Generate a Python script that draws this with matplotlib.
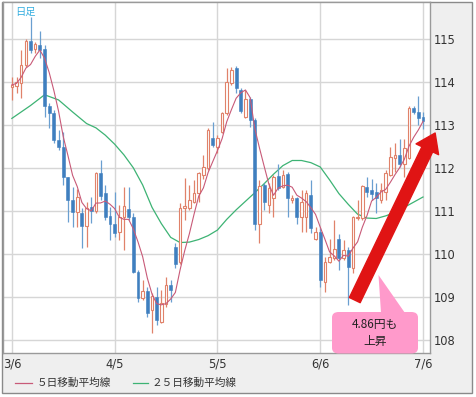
import numpy as np
import pandas as pd
import matplotlib
matplotlib.use("Agg")
import matplotlib.pyplot as plt
from matplotlib.patches import Rectangle, FancyBboxPatch, Polygon
from matplotlib.lines import Line2D

# ---------------- data (USD/JPY daily, 2017-03-06 .. 2017-07-06) ----------------
start_date = "2017-03-06"
end_date = "2017-07-06"
tick_dates = ["2017-03-06", "2017-04-05", "2017-05-05", "2017-06-06", "2017-07-06"]

opens = [113.87, 113.90, 113.97, 114.39, 114.95, 114.76, 114.86, 114.76, 113.44, 113.28,
         112.65, 112.49, 111.78, 111.25, 110.97, 110.95, 110.64, 111.09, 111.00, 111.87,
         111.41, 110.87, 110.69, 110.51, 110.85, 111.04, 110.86, 109.58, 108.98, 109.13,
         108.68, 108.99, 108.41, 108.84, 109.27, 110.16, 109.81, 111.06, 111.06, 111.21,
         111.41, 111.83, 112.00, 112.69, 112.49, 112.84, 113.27, 113.97, 114.33, 113.81,
         113.19, 113.60, 113.11, 110.70, 111.60, 111.13, 111.29, 111.81, 111.56, 111.85,
         111.25, 111.29, 110.86, 110.86, 111.36, 110.35, 110.51, 109.34, 109.81, 109.89,
         110.35, 109.89, 110.08, 109.66, 110.82, 110.82, 111.56, 111.48, 111.44, 111.25,
         111.44, 111.83, 112.22, 112.30, 112.10, 112.22, 113.40, 113.30, 113.19]
highs = [114.12, 114.12, 114.74, 115.00, 115.52, 114.94, 115.19, 114.86, 113.50, 113.35,
         112.88, 112.84, 111.79, 111.56, 111.50, 111.06, 111.21, 111.32, 111.90, 112.18,
         111.60, 111.09, 111.44, 111.13, 111.56, 111.56, 110.94, 109.62, 109.38, 109.23,
         109.08, 109.23, 109.15, 109.46, 109.38, 110.24, 111.17, 111.76, 111.60, 111.71,
         111.91, 112.30, 112.92, 113.07, 112.76, 113.31, 114.32, 114.35, 114.37, 113.85,
         113.81, 113.65, 113.15, 111.71, 111.64, 111.64, 111.83, 112.10, 111.95, 111.90,
         111.36, 111.32, 111.48, 111.48, 111.71, 110.62, 110.60, 109.93, 110.35, 110.78,
         110.47, 110.31, 110.15, 110.88, 111.25, 111.60, 111.79, 111.75, 111.64, 111.65,
         111.95, 112.49, 112.57, 112.68, 112.68, 113.45, 113.45, 113.67, 113.30]
lows = [113.58, 113.73, 113.62, 114.35, 114.67, 114.67, 114.55, 113.19, 112.93, 112.58,
        112.41, 111.60, 110.74, 110.63, 110.62, 110.13, 110.16, 110.71, 110.94, 111.25,
        110.78, 110.31, 110.39, 110.31, 110.08, 110.78, 109.54, 108.88, 108.92, 108.53,
        108.15, 108.33, 108.38, 108.76, 108.88, 109.66, 109.75, 110.78, 111.01, 111.17,
        111.21, 111.75, 111.95, 112.49, 112.34, 112.80, 113.23, 113.93, 113.75, 113.27,
        113.15, 112.96, 110.55, 110.24, 111.01, 110.94, 110.86, 111.48, 111.52, 110.86,
        111.17, 110.70, 110.51, 110.51, 110.48, 110.31, 109.23, 109.11, 109.78, 109.85,
        109.62, 109.85, 108.80, 109.54, 110.78, 110.78, 111.32, 111.25, 110.94, 111.17,
        111.25, 111.80, 111.91, 112.02, 111.79, 112.20, 113.25, 113.00, 112.90]
closes = [113.93, 114.00, 114.39, 114.96, 114.74, 114.88, 114.74, 113.44, 113.28, 112.64,
          112.49, 111.78, 111.25, 110.97, 111.32, 110.64, 111.06, 111.00, 111.87, 111.34,
          110.86, 110.69, 110.49, 110.86, 111.10, 110.86, 109.58, 108.98, 109.13, 108.61,
          109.01, 108.45, 108.85, 109.27, 109.15, 109.77, 111.06, 111.10, 111.25, 111.42,
          111.87, 112.02, 112.88, 112.53, 112.69, 113.27, 114.00, 114.28, 113.85, 113.33,
          113.60, 113.11, 110.70, 111.57, 111.21, 111.53, 111.79, 111.54, 111.83, 111.29,
          111.29, 110.86, 111.21, 111.41, 110.59, 110.51, 109.38, 109.81, 109.93, 110.12,
          109.89, 110.08, 109.69, 110.86, 110.86, 111.57, 111.44, 111.40, 111.29, 111.48,
          111.87, 112.26, 112.30, 112.10, 112.45, 113.40, 113.30, 113.15, 113.10]

# 25-day moving average at these candle positions
ma25_idx = [0, 4, 7, 10, 13, 16, 18, 20, 22, 24, 26, 28, 30, 32, 34, 36, 38, 40, 42, 44,
            46, 48, 50, 52, 54, 56, 58, 60, 62, 64, 66, 68, 70, 72, 74, 76, 78, 80, 82, 84,
            86, 88]
ma25_val = [113.15, 113.45, 113.70, 113.58, 113.30, 113.03, 112.93, 112.76, 112.55, 112.30,
            112.00, 111.60, 111.08, 110.70, 110.38, 110.26, 110.27, 110.33, 110.42, 110.55,
            110.80, 111.02, 111.22, 111.42, 111.63, 111.85, 112.05, 112.17, 112.17, 112.12,
            112.02, 111.72, 111.40, 111.15, 110.92, 110.83, 110.82, 110.88, 110.96, 111.08,
            111.20, 111.32]

y_ticks = [108, 109, 110, 111, 112, 113, 114, 115]
legend_labels = ["５日移動平均線", "２５日移動平均線"]
rise_text = "4.86円も\n上昇"
period_text = "日足"

# ---------------- styling ----------------
W, H = 476, 397
UP_EDGE = "#e0826a"
UP_WICK = "#e0826a"
DN_FACE = "#3f7fbf"
DN_WICK = "#6a9fd0"
MA5_C = "#c85a78"
MA25_C = "#3db374"
GRID_C = "#d6d6d6"
PANEL_C = "#efefef"

plt.rcParams["font.family"] = ["Noto Sans CJK JP", "DejaVu Sans"]

def fx(x):
    return x / W

def fy(y):
    return 1 - y / H

fig = plt.figure(figsize=(W / 100, H / 100), dpi=100, facecolor="white")
# gray panel + outer border
fig.patches.append(Rectangle((fx(1.5), fy(393)), fx(471.5) - fx(1.5), fy(1.5) - fy(393),
                             transform=fig.transFigure, facecolor=PANEL_C,
                             edgecolor="#8a8a8a", lw=1.0, zorder=-10))

ax = fig.add_axes([fx(2.5), fy(352.5), fx(430) - fx(2.5), fy(2) - fy(352.5)])
ax.set_facecolor("white")

dates = pd.bdate_range(start_date, end_date)
n = len(dates)
idx = np.arange(n)
o = np.array(opens); h = np.array(highs); l = np.array(lows); c = np.array(closes)
up = c >= o

# grid
for yv in y_ticks:
    ax.axhline(yv, color=GRID_C, lw=1.0, zorder=0)
tick_pos = [int(np.where(dates == pd.Timestamp(d))[0][0]) for d in tick_dates]
tick_lab = [f"{pd.Timestamp(d).month}/{pd.Timestamp(d).day}" for d in tick_dates]
for xp in tick_pos:
    ax.axvline(xp, color=GRID_C, lw=1.0, zorder=0)

# 25-day MA
ax.plot(ma25_idx, ma25_val, color=MA25_C, lw=0.9, zorder=2)

# candles
ax.vlines(idx[up], l[up], h[up], color=UP_WICK, lw=0.9, zorder=3)
ax.vlines(idx[~up], l[~up], h[~up], color=DN_WICK, lw=0.9, zorder=3)
body_lo = np.minimum(o, c)
body_h = np.maximum(np.abs(c - o), 0.02)
ax.bar(idx[up], body_h[up], bottom=body_lo[up], width=0.55, facecolor="white",
       edgecolor=UP_EDGE, lw=0.8, zorder=4)
ax.bar(idx[~up], body_h[~up], bottom=body_lo[~up], width=0.62, facecolor=DN_FACE,
       edgecolor=DN_FACE, lw=0.4, zorder=4)

# 5-day MA from closes
ma5 = pd.Series(closes).rolling(5, min_periods=1).mean()
ax.plot(idx, ma5, color=MA5_C, lw=0.8, zorder=5)

ax.set_xlim(-2.0, 89.5)
ax.set_ylim(107.70, 115.86)
ax.set_xticks(tick_pos)
ax.set_xticklabels(tick_lab)
ax.set_yticks(y_ticks)
ax.set_yticklabels([str(v) for v in y_ticks])
ax.yaxis.tick_right()
ax.tick_params(axis="both", length=0, labelsize=8.3, colors="#333333")
ax.tick_params(axis="y", pad=3.0)
ax.tick_params(axis="x", pad=3.5)
for lab in ax.get_xticklabels() + ax.get_yticklabels():
    lab.set_fontfamily("DejaVu Sans")
for sp in ax.spines.values():
    sp.set_color("#9a9a9a")
    sp.set_linewidth(1.0)

# period label
fig.text(fx(15), fy(11.5), period_text, color="#35aee0", fontsize=7.4,
         va="center", ha="left")

# big red arrow (annotation)
ax.annotate("", xy=(90.6, 112.81), xytext=(73.4, 108.92),
            xycoords="data", textcoords="data", annotation_clip=False,
            arrowprops=dict(arrowstyle="simple,head_length=1.3,head_width=1.8,tail_width=0.86",
                            mutation_scale=10, color="#e01414", shrinkA=0, shrinkB=0,
                            clip_on=False), zorder=8)

# callout box
fig.patches.append(FancyBboxPatch((fx(332), fy(353.5)), fx(418) - fx(332), fy(312) - fy(353.5),
                                  boxstyle="round,pad=0,rounding_size=0.014",
                                  transform=fig.transFigure, facecolor="#ff9acb",
                                  edgecolor="none", zorder=6))
fig.patches.append(Polygon([(fx(378.5), fy(275)), (fx(381), fy(313)), (fx(405), fy(313))],
                           closed=True, transform=fig.transFigure,
                           facecolor="#ff9acb", edgecolor="none", zorder=6))
fig.text(fx(375), fy(333), rise_text, ha="center", va="center", fontsize=8.5,
         color="#222222", linespacing=1.35, zorder=7)

# legend
fig.lines.append(Line2D([fx(15), fx(32)], [fy(383), fy(383)], transform=fig.transFigure,
                        color=MA5_C, lw=0.9))
fig.text(fx(37), fy(383), legend_labels[0], fontsize=7.7, color="#333333", va="center")
fig.lines.append(Line2D([fx(133), fx(148)], [fy(383), fy(383)], transform=fig.transFigure,
                        color=MA25_C, lw=0.9))
fig.text(fx(151), fy(383), legend_labels[1], fontsize=7.7, color="#333333", va="center")

fig.savefig("out.png", dpi=100, facecolor="white")
